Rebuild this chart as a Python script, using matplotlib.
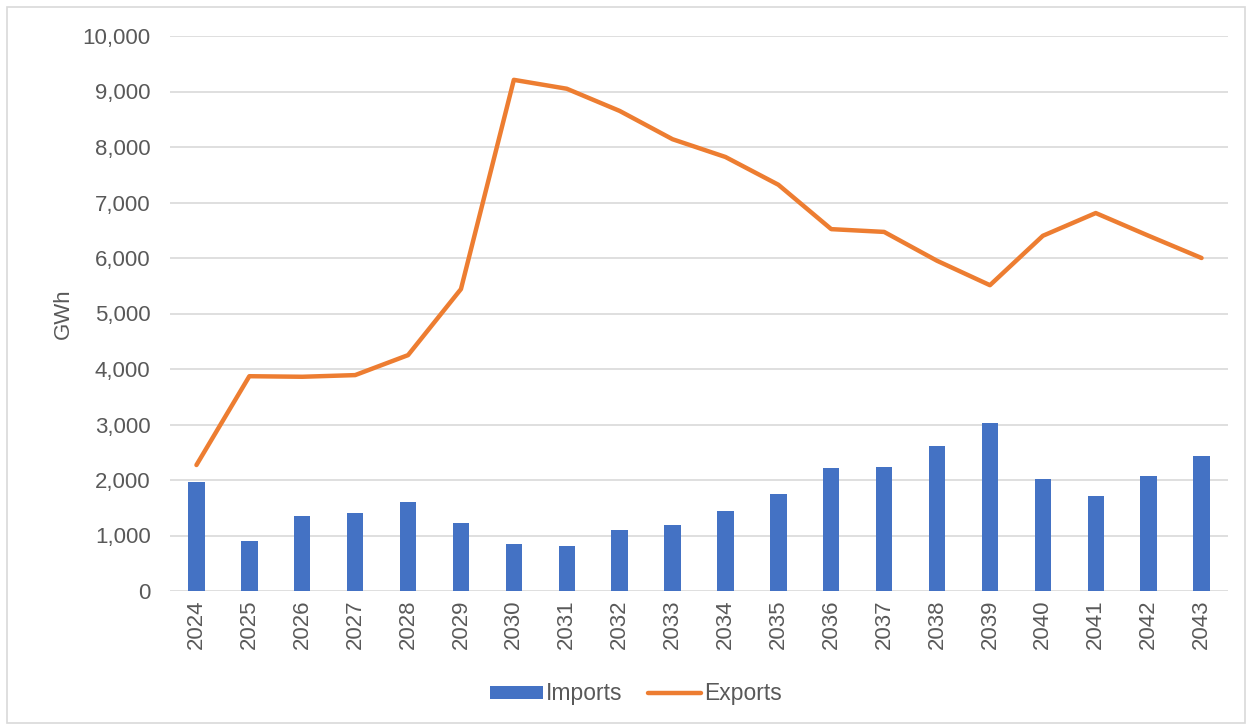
import matplotlib.pyplot as plt
import matplotlib.ticker as mticker
import numpy as np

plt.rcParams['font.family'] = ['Liberation Sans', 'DejaVu Sans']

years = [str(y) for y in range(2024, 2044)]
imports = [1960, 900, 1360, 1410, 1600, 1230, 850, 810, 1100, 1190,
           1440, 1750, 2220, 2230, 2610, 3030, 2020, 1710, 2070, 2430]
exports = [2270, 3870, 3860, 3890, 4250, 5440, 9210, 9050, 8650, 8140,
           7820, 7320, 6520, 6470, 5950, 5510, 6400, 6810, 6400, 6000]

fig = plt.figure(figsize=(12.52, 7.27), dpi=100)
ax = fig.add_axes([170 / 1252, 1 - 591 / 727, 1058 / 1252, 555 / 727])

x = np.arange(len(years))
b = ax.bar(x, imports, width=0.31, color='#4472C4', label='Imports', zorder=2)
l, = ax.plot(x, exports, color='#ED7D31', linewidth=3.2, label='Exports',
             solid_capstyle='round', zorder=3)

ax.set_xlim(-0.5, len(years) - 0.5)
ax.set_ylim(0, 10000)
ax.yaxis.set_major_locator(mticker.MultipleLocator(1000))
ax.yaxis.set_major_formatter(mticker.FuncFormatter(lambda v, p: f'{int(v):,}'))
ax.set_xticks(x)
ax.set_xticklabels(years, rotation=90)
ax.grid(axis='y', color='#D9D9D9', linewidth=1.2, zorder=0)
for s in ax.spines.values():
    s.set_visible(False)
ax.tick_params(axis='both', length=0, labelsize=16, colors='#595959')
ax.tick_params(axis='y', pad=14)
ax.tick_params(axis='x', pad=6)
ax.set_ylabel('GWh', fontsize=16, color='#595959', labelpad=6)

# legend centred on the figure, not the axes
fig.legend([b, l], ['Imports', 'Exports'], loc='upper center',
           bbox_to_anchor=(636 / 1252, 1 - 673 / 727), ncol=2,
           frameon=False, fontsize=16.5, labelcolor='#595959',
           handlelength=2.3, handleheight=0.5, handletextpad=0.15,
           columnspacing=1.1, borderaxespad=0)

# outer border like the chart frame
fig.patches.append(plt.Rectangle((7 / 1252, 0.005), 1 - 14 / 1252, 1 - 7 / 727 - 0.005,
                                 transform=fig.transFigure, fill=False,
                                 edgecolor='#D9D9D9', linewidth=1.2))

fig.savefig('out.png', dpi=100)
